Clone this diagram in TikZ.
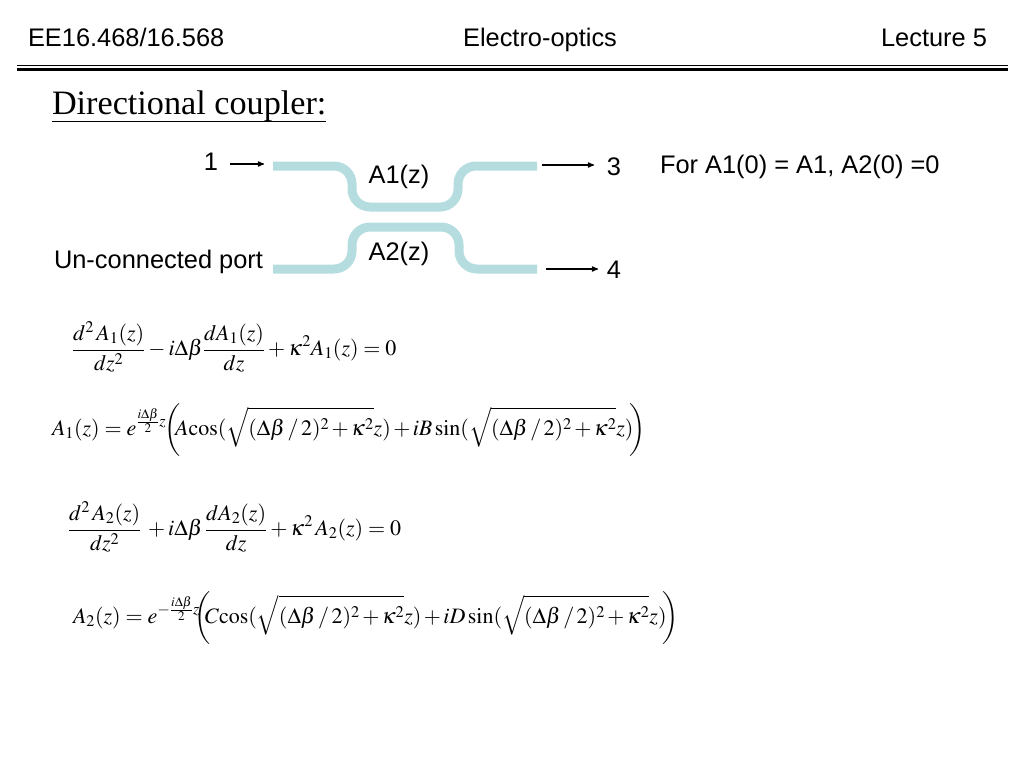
\documentclass[tikz,border=0pt]{standalone}
\usepackage{amsmath}
\usepackage{mathptmx}
\usepackage[no-math]{fontspec}
\setmainfont{Liberation Sans}
\newfontfamily\titlefont{Liberation Serif}
\usepackage{xcolor}
\usetikzlibrary{arrows,positioning}
\definecolor{guideblue}{RGB}{181,221,224}
\newcommand{\labelsize}{\fontsize{25.4}{30}\selectfont}
\newcommand{\mathsize}{\fontsize{22}{26}\selectfont}
\newcommand{\rootterm}{\sqrt{(\Delta\beta\mkern2mu/\mkern2mu2)^{2}+\kappa^{2}}z}

\begin{document}
\begin{tikzpicture}[x=1pt,y=-1pt]
          \useasboundingbox (0,0) rectangle (1024,768);
          \tikzstyle{every node}=[inner sep=0pt, outer sep=0pt, font=\labelsize]
          \tikzstyle{guide}=[draw=guideblue, line width=9pt, rounded corners=18pt]
          \tikzstyle{port}=[->,>=stealth', line width=1.2pt, black]
          \tikzstyle{eqn}=[anchor=west, font=\mathsize]

          % Header
          \node[anchor=base west] (HL) at (28,47) {EE16.468/16.568};
          \node[anchor=base] (HC) at (540,47) {Electro-optics};
          \node[anchor=base east] (HR) at (987,47) {Lecture 5};
          \coordinate (RL) at (17,65.5);
          \coordinate (RR) at (1008,65.5);
          \draw[line width=1pt] (RL) -- (RR);
          \draw[line width=3.5pt] ([yshift=-4pt]RL) -- ([yshift=-4pt]RR);

          \node[anchor=base west, font=\titlefont\fontsize{34.2}{38}\selectfont] (TT) at (52,114) {\underline{\smash{Directional coupler:}\rule[-3pt]{0pt}{3pt}}};

          % Waveguides
          \coordinate (GA1) at (273,166);
          \coordinate (GA2) at (537,166);
          \coordinate (GB1) at (273,269);
          \coordinate (GB2) at (537,269);
          \draw[guide] (GA1) -- (352,166) -- (352,207) -- (458,207) -- (458,166) -- (GA2);
          \draw[guide] (GB1) -- (352,269) -- (352,227) -- (459,227) -- (459,269) -- (GB2);

          \node (LA) at (399,177) {A1(z)};
          \node (LB) at (399,254) {A2(z)};

          % Ports
          \node (P1) at (211,162) {1};
          \node (P3) at (614,167) {3};
          \node (P4) at (614,270) {4};
          \node[anchor=east] (PU) at (263,262) {Un-connected port};
          \node[anchor=west] (NT) at (660,167) {For A1(0) = A1, A2(0) =0};

          \coordinate (S1) at (230,164);
          \coordinate (E1) at (264,164);
          \coordinate (S3) at (542,165);
          \coordinate (E3) at (594,165);
          \coordinate (S4) at (546,269);
          \coordinate (E4) at (598,269);
          \draw[port] (S1) -- (E1);
          \draw[port] (S3) -- (E3);
          \draw[port] (S4) -- (E4);

          % Equations
          \node[eqn] (EQA) at (72,347) {$\displaystyle \frac{d^{2}\,A_{1}(z)}{dz^{2}}-i\Delta\beta\frac{dA_{1}(z)}{dz}+\kappa^{2}A_{1}(z)=0$};
          \node[eqn] (EQB) at (52,430) {$\medmuskip=2mu\displaystyle A_{1}(z)=e^{\frac{i\Delta\beta}{2}z}\mkern-3mu\left(\mkern-5mu A\mkern-2mu\cos(\rootterm)+iB\sin(\rootterm)\mkern-3mu\right)$};
          \node[eqn] (EQC) at (68,527) {$\displaystyle \frac{d^{2}\,A_{2}(z)}{dz^{2}}\mkern3mu+i\Delta\beta\,\frac{dA_{2}(z)}{dz}+\kappa^{2}\,A_{2}(z)=0$};
          \node[eqn] (EQD) at (73,618) {$\medmuskip=2mu\displaystyle A_{2}(z)=e^{-\frac{i\Delta\beta}{2}z}\mkern-6mu\left(\mkern-5mu C\mkern-2mu\cos(\rootterm)+iD\sin(\rootterm)\mkern-3mu\right)$};
\end{tikzpicture}
\end{document}
